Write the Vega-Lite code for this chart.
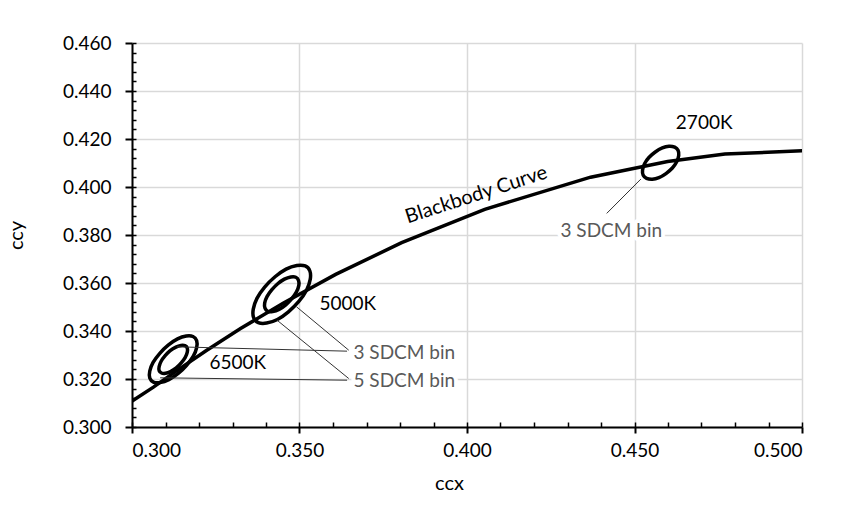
{
  "$schema": "https://vega.github.io/schema/vega-lite/v6.json",
  "autosize": "none",
  "width": 670,
  "height": 384,
  "padding": {"left": 132, "top": 43, "right": 41, "bottom": 92},
  "background": "white",
  "config": {"view": {"stroke": null}, "font": "Lato"},
  "datasets": {
    "blackbody": [
      {"x": 0.2952, "y": 0.3048}, {"x": 0.2991, "y": 0.3100}, {"x": 0.3064, "y": 0.3166},
      {"x": 0.3135, "y": 0.3236}, {"x": 0.3221, "y": 0.3318}, {"x": 0.3324, "y": 0.3410},
      {"x": 0.3451, "y": 0.3516}, {"x": 0.3608, "y": 0.3636}, {"x": 0.3805, "y": 0.3768},
      {"x": 0.4053, "y": 0.3907}, {"x": 0.4369, "y": 0.4041}, {"x": 0.4599, "y": 0.4106},
      {"x": 0.4770, "y": 0.4137}, {"x": 0.5019, "y": 0.4152}
    ],
    "ellipses": [
      {"ring": "2700K-3", "i": 0, "x": 0.4620, "y": 0.4166}, {"ring": "2700K-3", "i": 1, "x": 0.4603, "y": 0.4170},
      {"ring": "2700K-3", "i": 2, "x": 0.4583, "y": 0.4163}, {"ring": "2700K-3", "i": 3, "x": 0.4562, "y": 0.4146},
      {"ring": "2700K-3", "i": 4, "x": 0.4543, "y": 0.4123}, {"ring": "2700K-3", "i": 5, "x": 0.4530, "y": 0.4097},
      {"ring": "2700K-3", "i": 6, "x": 0.4524, "y": 0.4071}, {"ring": "2700K-3", "i": 7, "x": 0.4526, "y": 0.4049},
      {"ring": "2700K-3", "i": 8, "x": 0.4536, "y": 0.4036}, {"ring": "2700K-3", "i": 9, "x": 0.4553, "y": 0.4032},
      {"ring": "2700K-3", "i": 10, "x": 0.4573, "y": 0.4039}, {"ring": "2700K-3", "i": 11, "x": 0.4594, "y": 0.4056},
      {"ring": "2700K-3", "i": 12, "x": 0.4613, "y": 0.4079}, {"ring": "2700K-3", "i": 13, "x": 0.4626, "y": 0.4105},
      {"ring": "2700K-3", "i": 14, "x": 0.4632, "y": 0.4131}, {"ring": "2700K-3", "i": 15, "x": 0.4630, "y": 0.4153},

      {"ring": "5000K-3", "i": 0, "x": 0.3489, "y": 0.3624}, {"ring": "5000K-3", "i": 1, "x": 0.3474, "y": 0.3625},
      {"ring": "5000K-3", "i": 2, "x": 0.3455, "y": 0.3616}, {"ring": "5000K-3", "i": 3, "x": 0.3435, "y": 0.3597},
      {"ring": "5000K-3", "i": 4, "x": 0.3417, "y": 0.3571}, {"ring": "5000K-3", "i": 5, "x": 0.3403, "y": 0.3543},
      {"ring": "5000K-3", "i": 6, "x": 0.3396, "y": 0.3516}, {"ring": "5000K-3", "i": 7, "x": 0.3397, "y": 0.3495},
      {"ring": "5000K-3", "i": 8, "x": 0.3405, "y": 0.3482}, {"ring": "5000K-3", "i": 9, "x": 0.3420, "y": 0.3481},
      {"ring": "5000K-3", "i": 10, "x": 0.3439, "y": 0.3490}, {"ring": "5000K-3", "i": 11, "x": 0.3459, "y": 0.3509},
      {"ring": "5000K-3", "i": 12, "x": 0.3477, "y": 0.3535}, {"ring": "5000K-3", "i": 13, "x": 0.3491, "y": 0.3563},
      {"ring": "5000K-3", "i": 14, "x": 0.3498, "y": 0.3590}, {"ring": "5000K-3", "i": 15, "x": 0.3497, "y": 0.3611},

      {"ring": "5000K-5", "i": 0, "x": 0.3517, "y": 0.3671}, {"ring": "5000K-5", "i": 1, "x": 0.3492, "y": 0.3673},
      {"ring": "5000K-5", "i": 2, "x": 0.3460, "y": 0.3658}, {"ring": "5000K-5", "i": 3, "x": 0.3427, "y": 0.3626},
      {"ring": "5000K-5", "i": 4, "x": 0.3396, "y": 0.3583}, {"ring": "5000K-5", "i": 5, "x": 0.3373, "y": 0.3536},
      {"ring": "5000K-5", "i": 6, "x": 0.3362, "y": 0.3491}, {"ring": "5000K-5", "i": 7, "x": 0.3363, "y": 0.3456},
      {"ring": "5000K-5", "i": 8, "x": 0.3377, "y": 0.3435}, {"ring": "5000K-5", "i": 9, "x": 0.3402, "y": 0.3433},
      {"ring": "5000K-5", "i": 10, "x": 0.3434, "y": 0.3448}, {"ring": "5000K-5", "i": 11, "x": 0.3467, "y": 0.3480},
      {"ring": "5000K-5", "i": 12, "x": 0.3498, "y": 0.3523}, {"ring": "5000K-5", "i": 13, "x": 0.3521, "y": 0.3570},
      {"ring": "5000K-5", "i": 14, "x": 0.3532, "y": 0.3615}, {"ring": "5000K-5", "i": 15, "x": 0.3531, "y": 0.3650},

      {"ring": "6500K-3", "i": 0, "x": 0.3158, "y": 0.3339}, {"ring": "6500K-3", "i": 1, "x": 0.3146, "y": 0.3340},
      {"ring": "6500K-3", "i": 2, "x": 0.3131, "y": 0.3333}, {"ring": "6500K-3", "i": 3, "x": 0.3114, "y": 0.3318},
      {"ring": "6500K-3", "i": 4, "x": 0.3099, "y": 0.3297}, {"ring": "6500K-3", "i": 5, "x": 0.3087, "y": 0.3274},
      {"ring": "6500K-3", "i": 6, "x": 0.3081, "y": 0.3252}, {"ring": "6500K-3", "i": 7, "x": 0.3081, "y": 0.3235},
      {"ring": "6500K-3", "i": 8, "x": 0.3088, "y": 0.3225}, {"ring": "6500K-3", "i": 9, "x": 0.3100, "y": 0.3224},
      {"ring": "6500K-3", "i": 10, "x": 0.3115, "y": 0.3231}, {"ring": "6500K-3", "i": 11, "x": 0.3132, "y": 0.3246},
      {"ring": "6500K-3", "i": 12, "x": 0.3147, "y": 0.3267}, {"ring": "6500K-3", "i": 13, "x": 0.3159, "y": 0.3290},
      {"ring": "6500K-3", "i": 14, "x": 0.3165, "y": 0.3312}, {"ring": "6500K-3", "i": 15, "x": 0.3165, "y": 0.3329},

      {"ring": "6500K-5", "i": 0, "x": 0.3182, "y": 0.3377}, {"ring": "6500K-5", "i": 1, "x": 0.3162, "y": 0.3379},
      {"ring": "6500K-5", "i": 2, "x": 0.3136, "y": 0.3367}, {"ring": "6500K-5", "i": 3, "x": 0.3108, "y": 0.3341},
      {"ring": "6500K-5", "i": 4, "x": 0.3083, "y": 0.3307}, {"ring": "6500K-5", "i": 5, "x": 0.3063, "y": 0.3269},
      {"ring": "6500K-5", "i": 6, "x": 0.3053, "y": 0.3233}, {"ring": "6500K-5", "i": 7, "x": 0.3053, "y": 0.3204},
      {"ring": "6500K-5", "i": 8, "x": 0.3064, "y": 0.3187}, {"ring": "6500K-5", "i": 9, "x": 0.3084, "y": 0.3185},
      {"ring": "6500K-5", "i": 10, "x": 0.3110, "y": 0.3197}, {"ring": "6500K-5", "i": 11, "x": 0.3138, "y": 0.3223},
      {"ring": "6500K-5", "i": 12, "x": 0.3163, "y": 0.3257}, {"ring": "6500K-5", "i": 13, "x": 0.3183, "y": 0.3295},
      {"ring": "6500K-5", "i": 14, "x": 0.3193, "y": 0.3331}, {"ring": "6500K-5", "i": 15, "x": 0.3193, "y": 0.3360}
    ],
    "leaders": [
      {"x": 0.4519, "y": 0.4033, "x2": 0.4417, "y2": 0.3890},
      {"x": 0.3491, "y": 0.3501, "x2": 0.3647, "y2": 0.3320},
      {"x": 0.3433, "y": 0.3445, "x2": 0.3647, "y2": 0.3202},
      {"x": 0.3134, "y": 0.3334, "x2": 0.3642, "y2": 0.3316},
      {"x": 0.3084, "y": 0.3205, "x2": 0.3642, "y2": 0.3195}
    ],
    "temps": [
      {"t": "2700K", "x": 0.4708, "y": 0.4268},
      {"t": "5000K", "x": 0.3644, "y": 0.3512},
      {"t": "6500K", "x": 0.3316, "y": 0.3268}
    ],
    "curveLabel": [
      {"t": "Blackbody Curve", "x": 0.4028, "y": 0.3967}
    ],
    "bins": [
      {"t": "3 SDCM bin", "x": 0.3661, "y": 0.3310},
      {"t": "5 SDCM bin", "x": 0.3661, "y": 0.3191},
      {"t": "3 SDCM bin", "x": 0.4279, "y": 0.3817}
    ]
  },
  "resolve": {"axis": {"x": "independent", "y": "independent"}},
  "layer": [
    {
      "data": {"name": "blackbody"},
      "mark": {"type": "line", "color": "#000000", "strokeWidth": 3.5, "clip": true},
      "encoding": {
        "x": {
          "field": "x", "type": "quantitative",
          "scale": {"domain": [0.3, 0.5], "nice": false, "zero": false},
          "axis": {
            "orient": "bottom", "values": [0.3, 0.35, 0.4, 0.45, 0.5], "format": ".3f",
            "grid": true, "gridColor": "#d9d9d9", "gridWidth": 1.5,
            "domainColor": "#000000", "domainWidth": 2,
            "tickColor": "#000000", "tickWidth": 2, "tickSize": 6,
            "labelFont": "Lato", "labelFontSize": 19, "labelColor": "#000000", "labelPadding": 8,
            "title": "ccx", "titleFont": "Lato", "titleFontSize": 20, "titleFontWeight": "normal",
            "titleColor": "#000000", "titlePadding": 13, "titleX": 317
          }
        },
        "y": {
          "field": "y", "type": "quantitative",
          "scale": {"domain": [0.3, 0.46], "nice": false, "zero": false},
          "axis": {
            "orient": "left", "values": [0.3, 0.32, 0.34, 0.36, 0.38, 0.4, 0.42, 0.44, 0.46], "format": ".3f",
            "grid": true, "gridColor": "#d9d9d9", "gridWidth": 1.5,
            "domainColor": "#000000", "domainWidth": 2,
            "tickColor": "#000000", "tickWidth": 2, "tickSize": 7,
            "labelFont": "Lato", "labelFontSize": 19, "labelColor": "#000000", "labelPadding": 14,
            "title": "ccy", "titleFont": "Lato", "titleFontSize": 20, "titleFontWeight": "normal",
            "titleColor": "#000000", "titleX": -106, "titleY": 192
          }
        }
      }
    },
    {
      "data": {"name": "ellipses"},
      "mark": {"type": "line", "color": "#000000", "strokeWidth": 3.5, "interpolate": "cardinal-closed"},
      "encoding": {
        "x": {"field": "x", "type": "quantitative", "axis": null},
        "y": {"field": "y", "type": "quantitative", "axis": null},
        "detail": {"field": "ring", "type": "nominal"},
        "order": {"field": "i", "type": "quantitative"}
      }
    },
    {
      "data": {"name": "leaders"},
      "mark": {"type": "rule", "color": "#333333", "strokeWidth": 1},
      "encoding": {
        "x": {
          "field": "x", "type": "quantitative",
          "axis": {
            "orient": "bottom", "title": null, "labels": false, "domain": false, "grid": false,
            "values": [0.3, 0.31, 0.32, 0.33, 0.34, 0.35, 0.36, 0.37, 0.38, 0.39, 0.4, 0.41, 0.42, 0.43, 0.44, 0.45, 0.46, 0.47, 0.48, 0.49, 0.5],
            "tickColor": "#000000", "tickWidth": 1.5, "tickSize": -5
          }
        },
        "y": {
          "field": "y", "type": "quantitative",
          "axis": {
            "orient": "left", "title": null, "labels": false, "domain": false, "grid": false,
            "values": [0.3, 0.304, 0.308, 0.312, 0.316, 0.32, 0.324, 0.328, 0.332, 0.336, 0.34, 0.344, 0.348, 0.352, 0.356, 0.36, 0.364, 0.368, 0.372, 0.376, 0.38, 0.384, 0.388, 0.392, 0.396, 0.4, 0.404, 0.408, 0.412, 0.416, 0.42, 0.424, 0.428, 0.432, 0.436, 0.44, 0.444, 0.448, 0.452, 0.456, 0.46],
            "tickColor": "#000000", "tickWidth": 1.5, "tickSize": -4
          }
        },
        "x2": {"field": "x2"},
        "y2": {"field": "y2"}
      }
    },
    {
      "data": {"name": "bins"},
      "mark": {"type": "text", "align": "left", "baseline": "middle", "font": "Lato", "fontSize": 19, "color": "white", "stroke": "white", "strokeWidth": 8, "strokeJoin": "round"},
      "encoding": {
        "x": {"field": "x", "type": "quantitative", "axis": null},
        "y": {"field": "y", "type": "quantitative", "axis": null},
        "text": {"field": "t"}
      }
    },
    {
      "data": {"name": "bins"},
      "mark": {"type": "text", "align": "left", "baseline": "middle", "font": "Lato", "fontSize": 19, "color": "#595959"},
      "encoding": {
        "x": {"field": "x", "type": "quantitative", "axis": null},
        "y": {"field": "y", "type": "quantitative", "axis": null},
        "text": {"field": "t"}
      }
    },
    {
      "data": {"name": "temps"},
      "mark": {"type": "text", "align": "center", "baseline": "middle", "font": "Lato", "fontSize": 19, "color": "#000000"},
      "encoding": {
        "x": {"field": "x", "type": "quantitative", "axis": null},
        "y": {"field": "y", "type": "quantitative", "axis": null},
        "text": {"field": "t"}
      }
    },
    {
      "data": {"name": "curveLabel"},
      "mark": {"type": "text", "align": "center", "baseline": "middle", "font": "Lato", "fontSize": 20, "color": "#000000", "angle": 342},
      "encoding": {
        "x": {"field": "x", "type": "quantitative", "axis": null},
        "y": {"field": "y", "type": "quantitative", "axis": null},
        "text": {"field": "t"}
      }
    }
  ]
}
